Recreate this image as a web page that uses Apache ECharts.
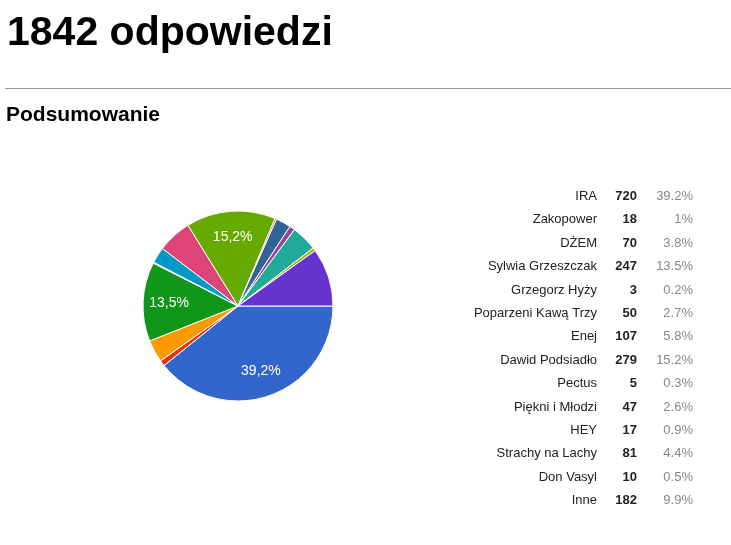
<!DOCTYPE html>
<html>
<head>
<meta charset="utf-8">
<script src="https://cdn.jsdelivr.net/npm/echarts@6/dist/echarts.min.js"></script>
<style>
html,body{margin:0;padding:0;background:#fff;}
#chart{width:731px;height:545px;}
</style>
</head>
<body>
<div id="chart"></div>
<script>
const respondents = 1842;
const titleText = respondents + ' odpowiedzi';
const subtitleText = 'Podsumowanie';
const categories = ['IRA','Zakopower','DŻEM','Sylwia Grzeszczak','Grzegorz Hyży','Poparzeni Kawą Trzy','Enej','Dawid Podsiadło','Pectus','Piękni i Młodzi','HEY','Strachy na Lachy','Don Vasyl','Inne'];
const counts = [720,18,70,247,3,50,107,279,5,47,17,81,10,182];
const colors = ['#3366cc','#dc3912','#ff9900','#109618','#990099','#0099c6','#dd4477','#66aa00','#b82e2e','#316395','#994499','#22aa99','#aaaa11','#6633cc'];

const total = counts.reduce((a,b)=>a+b,0);
function pct(v){ let s=(Math.round(v/total*1000)/10).toFixed(1); if(s.endsWith('.0')) s=s.slice(0,-2); return s; }

const data = categories.map((c,i)=>({name:c,value:counts[i],itemStyle:{color:colors[i]}}));
const labelData = categories.map((c,i)=>({name:c,value:counts[i]}));

const FONT = '"Liberation Sans", Arial, sans-serif';
const graphics = [
  {type:'text',x:7,y:34,style:{text:titleText,font:'bold 41px '+FONT,fill:'#000',verticalAlign:'middle'}},
  {type:'line',shape:{x1:5,y1:88.5,x2:731,y2:88.5},style:{stroke:'#999',lineWidth:1}},
  {type:'text',x:6,y:115,style:{text:subtitleText,font:'bold 21px '+FONT,fill:'#000',verticalAlign:'middle'}}
];
const rowY0 = 196.5, rowStep = 23.4;
categories.forEach((c,i)=>{
  const y = rowY0 + i*rowStep;
  graphics.push({type:'text',x:597,y:y,style:{text:c,font:'13px '+FONT,fill:'#222',align:'right',verticalAlign:'middle'}});
  graphics.push({type:'text',x:637,y:y,style:{text:String(counts[i]),font:'bold 13px '+FONT,fill:'#222',align:'right',verticalAlign:'middle'}});
  graphics.push({type:'text',x:693,y:y,style:{text:pct(counts[i])+'%',font:'13px '+FONT,fill:'#888',align:'right',verticalAlign:'middle'}});
});

const chart = echarts.init(document.getElementById('chart'));
chart.setOption({
  animation:false,
  graphic:graphics,
  series:[
    {
      type:'pie',
      center:[238,306],
      radius:[0,95],
      startAngle:0,
      clockwise:true,
      silent:true,
      data:data,
      itemStyle:{borderColor:'#fff',borderWidth:1},
      label:{show:false},
      labelLine:{show:false}
    },
    {
      type:'pie',
      center:[238,306],
      radius:[0,132],
      startAngle:0,
      clockwise:true,
      silent:true,
      data:labelData,
      itemStyle:{color:'rgba(0,0,0,0)'},
      labelLine:{show:false},
      label:{
        show:true,
        position:'inside',
        color:'#fff',
        fontFamily:FONT,
        fontSize:14,
        formatter:function(p){ return (p.value/total>=0.12) ? pct(p.value).replace('.',',')+'%' : ''; }
      }
    }
  ]
});
</script>
</body>
</html>
